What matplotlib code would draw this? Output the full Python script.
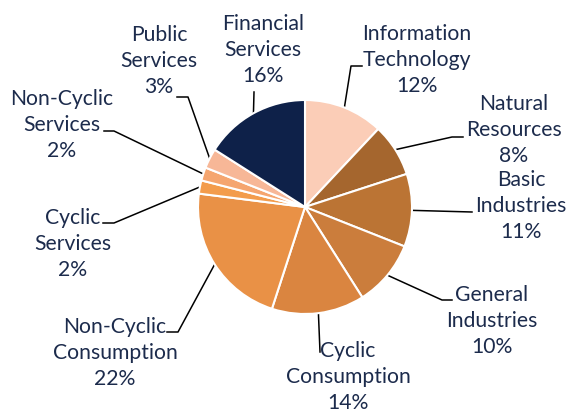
import numpy as np
import matplotlib.pyplot as plt

# sector shares (%), clockwise from 12 o'clock
sectors = ["Information\nTechnology", "Natural\nResources", "Basic\nIndustries",
           "General\nIndustries", "Cyclic\nConsumption", "Non-Cyclic\nConsumption",
           "Cyclic\nServices", "Non-Cyclic\nServices", "Public\nServices",
           "Financial\nServices"]
shares = [12, 8, 11, 10, 14, 22, 2, 2, 3, 16]
colors = ["#FBCDB7", "#A5662E", "#BB7434", "#CB7D3C", "#DA8540",
          "#E99146", "#F39C4C", "#F5A56F", "#F7B797", "#0E2149"]

# label layout in pixels (text centre, elbow point, end of horizontal tick)
label_xy = [(417, 60), (514, 130), (521, 206), (492, 321), (348, 377),
            (115, 353), (73, 244), (62, 125), (159, 61), (263, 50)]
elbow = [(351, 66), (452, 137), (472, 212), (442, 300), (320, 352),
         (178, 332), (114, 223), (114, 131), (188, 97), (254, 92)]
tick_end = [(362, 66), (463, 137), (472, 212), (452, 300), (320, 352),
            (167, 332), (103, 223), (104, 131), (177, 97), (254, 92)]

W, H = 574, 412
CX, CY, R = 305, 207, 107
TXT = "#1C2B4C"


def px(p):
    return ((p[0] - CX) / R, (CY - p[1]) / R)


fig = plt.figure(figsize=(W / 100, H / 100), dpi=100)
ax = fig.add_axes([0, 0, 1, 1])

wedges, _ = ax.pie(shares, colors=colors, startangle=90, counterclock=False,
                   radius=1, wedgeprops=dict(edgecolor="white", linewidth=1.5))
ax.set_xlim(-CX / R, (W - CX) / R)
ax.set_ylim(-(H - CY) / R, CY / R)
ax.set_aspect("equal")
ax.axis("off")

for w, name, val, lxy, el, te in zip(wedges, sectors, shares, label_xy, elbow, tick_end):
    ang = np.deg2rad((w.theta1 + w.theta2) / 2)
    x0, y0 = np.cos(ang), np.sin(ang)
    ex, ey = px(el)
    tx, ty = px(te)
    ax.plot([x0, ex, tx], [y0, ey, ty], color="black", lw=1.1, zorder=0.5)
    lx, ly = px(lxy)
    ax.text(lx, ly, f"{name}\n{val}%", ha="center", va="center",
            multialignment="center", fontsize=15.2, family="Lato",
            color=TXT, linespacing=1.36)

fig.savefig("out.png", dpi=100)
